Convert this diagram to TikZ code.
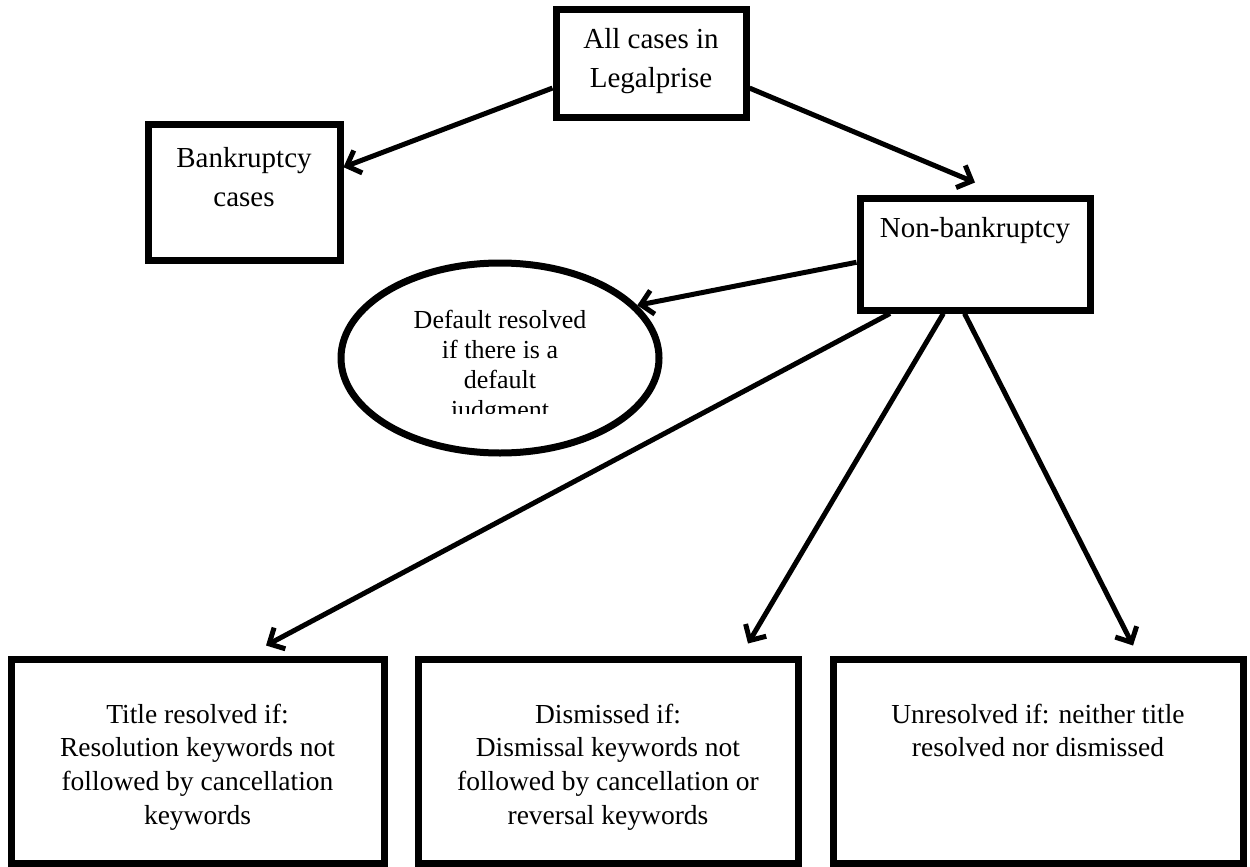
\documentclass[tikz,border=0pt]{standalone}
\usepackage{fontspec}
\setmainfont{Liberation Serif}
\usetikzlibrary{positioning,shapes.geometric,arrows.meta}

\tikzset{
  box/.style={draw, line width=7pt, inner sep=0pt},
  toptext/.style={align=center, inner sep=0pt, font=\fontsize{29}{39}\selectfont},
  lowtext/.style={align=center, inner sep=0pt, font=\fontsize{27.5}{33.7}\selectfont},
  elltext/.style={align=center, inner sep=0pt, font=\fontsize{26}{30}\selectfont},
  arr/.style={line width=5pt, -{Straight Barb[length=12pt,width=24pt]}},
}

\begin{document}
\begin{tikzpicture}[x=1pt, y=-1pt]
  \useasboundingbox (0,0) rectangle (1250,867);

  % boxes
  \node [box, minimum width=190pt, minimum height=107pt] (all) at (651,63.5) {};
  \node [box, minimum width=192pt, minimum height=136pt] (bank) at (244,192) {};
  \node [box, minimum width=230pt, minimum height=112pt] (nonb) at (975,254) {};
  \node [box, ellipse, minimum width=318pt, minimum height=190pt] (dflt) at (500,358) {};
  \node [box, minimum width=373pt, minimum height=204pt] (title) at (197.5,761) {};
  \node [box, minimum width=380pt, minimum height=204pt] (dism) at (608,761) {};
  \node [box, minimum width=410pt, minimum height=204pt] (unres) at (1038,761) {};

  % labels
  \node [toptext, below=22pt of all.north] (alltext) {All cases in\\Legalprise};
  \node [toptext, below=27pt of bank.north] (banktext) {Bankruptcy\\cases};
  \node [toptext, below=23pt of nonb.north] (nonbtext) {Non-bankruptcy};
  \node [lowtext, below=48pt of title.north] (titletext)
    {Title resolved if:\\Resolution keywords not\\followed by cancellation\\keywords};
  \node [lowtext, below=48pt of dism.north] (dismtext)
    {Dismissed if:\\Dismissal keywords not\\followed by cancellation or\\reversal keywords};
  \node [lowtext, below=48pt of unres.north] (unrestext)
    {Unresolved if: neither title\\resolved nor dismissed};
  \begin{scope}
    \clip (330,290) rectangle (670,413);
    \node [elltext, below=50pt of dflt.north] (dflttext)
      {Default resolved\\if there is a\\default\\judgment};
  \end{scope}

  % arrows
  \draw [arr] (all.194) -- (bank.14);
  \draw [arr] (all.346) -- ([yshift=12pt]nonb.north);
  \draw [arr] (nonb.184) -- (dflt.21);
  \draw [arr] (nonb.215) -- ([yshift=10pt]title.57);
  \draw [arr] (nonb.242) -- ([yshift=12pt]dism.37);
  \draw [arr] (nonb.260) -- ([yshift=10pt]unres.48);
\end{tikzpicture}
\end{document}
